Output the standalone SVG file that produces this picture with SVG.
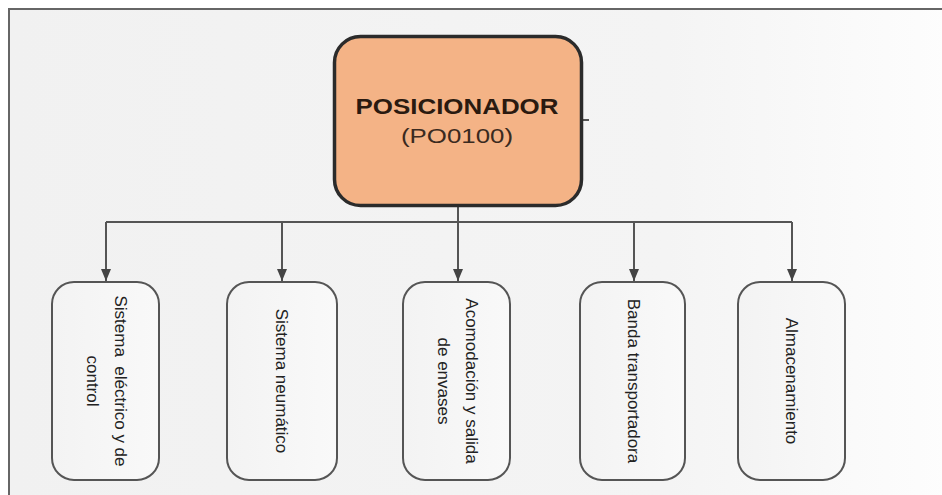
<svg xmlns="http://www.w3.org/2000/svg" width="942" height="495" viewBox="0 0 942 495">
  <defs>
    <linearGradient id="bg" x1="0" y1="0" x2="1" y2="0">
      <stop offset="0" stop-color="#f1f1f1"/>
      <stop offset="0.7" stop-color="#f4f4f4"/>
      <stop offset="1" stop-color="#fdfdfd"/>
    </linearGradient>
    <linearGradient id="leaf" x1="0" y1="0" x2="1" y2="0">
      <stop offset="0" stop-color="#f3f3f3"/>
      <stop offset="1" stop-color="#f9f9f9"/>
    </linearGradient>
    <marker id="arrow" viewBox="0 0 12 10" refX="12" refY="5" markerWidth="12" markerHeight="12" markerUnits="userSpaceOnUse" orient="auto">
      <path d="M0,0 L12,5 L0,10 Z" fill="#444"/>
    </marker>
    <style>
      .leaf { fill: url(#leaf); stroke: #555; stroke-width: 2; }
      .wire { fill: none; stroke: #555; stroke-width: 2; }
      .vlabel { font-family: "Liberation Sans", Arial, sans-serif; font-size: 17px; fill: #222; text-anchor: middle; }
    </style>
  </defs>

  <!-- page background and frame -->
  <rect x="0" y="0" width="942" height="495" fill="#ffffff"/>
  <rect x="9" y="9" width="940" height="495" fill="url(#bg)" stroke="#666" stroke-width="2"/>

  <!-- connectors -->
  <g id="connectors">
    <path class="wire" d="M583,120 H589"/>
    <path class="wire" d="M458,207 V281"/>
    <path class="wire" d="M106,222 H792"/>
    <path class="wire" d="M106,222 V281" marker-end="url(#arrow)"/>
    <path class="wire" d="M282,222 V281" marker-end="url(#arrow)"/>
    <path class="wire" d="M458,222 V281" marker-end="url(#arrow)"/>
    <path class="wire" d="M634,222 V281" marker-end="url(#arrow)"/>
    <path class="wire" d="M792,222 V281" marker-end="url(#arrow)"/>
  </g>

  <!-- root node -->
  <g id="posicionador">
    <rect x="334.5" y="36.5" width="247" height="169" rx="26" ry="26" fill="#f4b386" stroke="#2b2b2b" stroke-width="3.5"/>
    <text x="457" y="114" font-family="Liberation Sans, Arial, sans-serif" font-size="22" font-weight="bold" fill="#2a1a10" text-anchor="middle" textLength="203" lengthAdjust="spacingAndGlyphs">POSICIONADOR</text>
    <text x="457" y="143" font-family="Liberation Sans, Arial, sans-serif" font-size="21" fill="#3a2a20" text-anchor="middle" textLength="112" lengthAdjust="spacingAndGlyphs">(PO0100)</text>
  </g>

  <!-- child nodes (labels read top to bottom) -->
  <g id="sistema-electrico">
    <rect class="leaf" x="52" y="282" width="107" height="198" rx="22" ry="22"/>
    <text class="vlabel" transform="translate(114.5,381) rotate(90)" xml:space="preserve">Sistema  eléctrico y de</text>
    <text class="vlabel" transform="translate(86.5,381) rotate(90)">control</text>
  </g>

  <g id="sistema-neumatico">
    <rect class="leaf" x="227" y="282" width="110" height="198" rx="22" ry="22"/>
    <text class="vlabel" transform="translate(276,381) rotate(90)">Sistema neumático</text>
  </g>

  <g id="acomodacion">
    <rect class="leaf" x="403" y="282" width="107" height="198" rx="22" ry="22"/>
    <text class="vlabel" transform="translate(466,381) rotate(90)">Acomodación y salida</text>
    <text class="vlabel" transform="translate(438,381) rotate(90)">de envases</text>
  </g>

  <g id="banda">
    <rect class="leaf" x="580" y="282" width="105" height="198" rx="22" ry="22"/>
    <text class="vlabel" transform="translate(628,381) rotate(90)">Banda transportadora</text>
  </g>

  <g id="almacenamiento">
    <rect class="leaf" x="738" y="282" width="107" height="198" rx="22" ry="22"/>
    <text class="vlabel" transform="translate(786,381) rotate(90)">Almacenamiento</text>
  </g>
</svg>
